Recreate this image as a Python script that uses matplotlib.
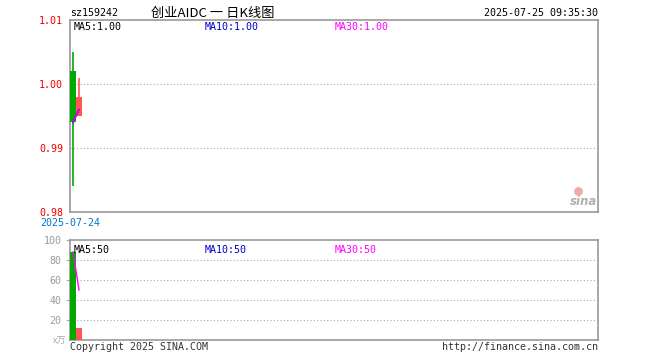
import matplotlib
matplotlib.use("Agg")
import matplotlib.pyplot as plt
import numpy as np

##Data##
dates = ['2025-07-24', '2025-07-25']
opens = [1.002, 0.995]
closes = [0.994, 0.998]
highs = [1.005, 1.001]
lows = [0.984, 0.995]
volumes = [88, 12]

code = 'sz159242'
title = '创业AIDC 一 日K线图'
stamp = '2025-07-25 09:35:30'
price_ticks = [0.98, 0.99, 1.00, 1.01]
vol_ticks = [20, 40, 60, 80, 100]

GREEN = '#00a800'
RED = '#ff5555'
BORDER = '#999999'
MONO = 'DejaVu Sans Mono'
FS = 7.2


def moving_avg(vals, n):
    out = []
    for i in range(len(vals)):
        w = vals[max(0, i - n + 1):i + 1]
        out.append(sum(w) / len(w))
    return out


W, H = 660, 360
fig = plt.figure(figsize=(6.6, 3.6), dpi=100)
ax = fig.add_axes([70 / W, (H - 212) / H, 528 / W, 192 / H])
axv = fig.add_axes([70 / W, (H - 340) / H, 528 / W, 100 / H])

x = np.arange(len(dates))
cols = [RED if c >= o else GREEN for o, c in zip(opens, closes)]

# candles
for xi, o, c, hi, lo, col in zip(x, opens, closes, highs, lows, cols):
    ax.vlines(xi, lo, hi, color=col, lw=1.2, zorder=3)
    ax.bar(xi, abs(c - o), bottom=min(o, c), width=0.85, color=col,
           edgecolor='none', zorder=4)

ma5 = moving_avg(closes, 5)
ma10 = moving_avg(closes, 10)
ma30 = moving_avg(closes, 30)
ax.plot(x, ma5, color='black', lw=1, zorder=5)
ax.plot(x, ma10, color='#0000cc', lw=1, zorder=5)
ax.plot(x, ma30, color='#ff00ff', lw=1, zorder=5)

ax.set_xlim(-0.5, 87.5)
ax.set_ylim(0.98, 1.01)
ax.set_yticks(price_ticks)
ax.set_yticklabels(['%.2f' % t for t in price_ticks], color='#ee0000',
                   family=MONO, fontsize=FS)
ax.set_xticks([])
ax.tick_params(axis='y', length=0, pad=5)
for t in [0.99, 1.00]:
    ax.axhline(t, color='#aaaaaa', lw=0.8, ls=(0, (1, 2)), zorder=1)

ax.text(4 / 528, 0.965, 'MA5:%.2f' % ma5[-1], transform=ax.transAxes,
        family=MONO, fontsize=FS, color='black', va='center')
ax.text(135 / 528, 0.965, 'MA10:%.2f' % ma10[-1], transform=ax.transAxes,
        family=MONO, fontsize=FS, color='#0000cc', va='center')
ax.text(265 / 528, 0.965, 'MA30:%.2f' % ma30[-1], transform=ax.transAxes,
        family=MONO, fontsize=FS, color='#ff00ff', va='center')

# sina watermark
ax.text(0.998, 0.02, 'sina', transform=ax.transAxes, ha='right', va='bottom',
        fontsize=8.5, fontstyle='italic', fontweight='bold', color='#b0b0b0',
        family='DejaVu Sans', zorder=2)
ax.scatter([0.962], [0.11], transform=ax.transAxes, s=28,
           color='#f4a8a8', zorder=2, clip_on=False)

# volume
axv.bar(x, volumes, width=0.85, color=cols, edgecolor='none', zorder=3)
vma5 = moving_avg(volumes, 5)
axv.plot(x, vma5, color='#ff00ff', lw=1, zorder=4)
axv.set_xlim(-0.5, 87.5)
axv.set_ylim(0, 100)
axv.set_yticks(vol_ticks)
axv.set_yticklabels([str(t) for t in vol_ticks], color='#999999',
                    family=MONO, fontsize=FS)
axv.set_xticks([])
axv.tick_params(axis='y', length=3, color='#aaaaaa', pad=3)
for t in [20, 40, 60, 80]:
    axv.axhline(t, color='#aaaaaa', lw=0.8, ls=(0, (1, 2)), zorder=1)
axv.text(4 / 528, 0.9, 'MA5:%d' % round(vma5[-1]), transform=axv.transAxes,
         family=MONO, fontsize=FS, color='black', va='center')
axv.text(135 / 528, 0.9, 'MA10:%d' % round(moving_avg(volumes, 10)[-1]),
         transform=axv.transAxes, family=MONO, fontsize=FS, color='#0000cc',
         va='center')
axv.text(265 / 528, 0.9, 'MA30:%d' % round(moving_avg(volumes, 30)[-1]),
         transform=axv.transAxes, family=MONO, fontsize=FS, color='#ff00ff',
         va='center')

for a in (ax, axv):
    for s in a.spines.values():
        s.set_color(BORDER)
        s.set_linewidth(1.2)

# header / footer texts
fig.text(70 / W, 1 - 13 / H, code, family=MONO, fontsize=FS, va='center')
fig.text(213 / W, 1 - 13 / H, title, family=['Noto Sans CJK SC', 'DejaVu Sans'],
         fontsize=9.5, va='center', ha='center')
fig.text(598 / W, 1 - 13 / H, stamp, family=MONO, fontsize=FS, va='center',
         ha='right')
fig.text(40 / W, 1 - 223 / H, dates[0], family=MONO, fontsize=FS,
         color='#0077cc', va='center')
fig.text(66 / W, 1 - 341 / H, 'x万', family=['Noto Sans CJK SC', 'DejaVu Sans'],
         fontsize=6.5, color='#aaaaaa', va='center', ha='right')
fig.text(70 / W, 1 - 347 / H, 'Copyright 2025 SINA.COM', family=MONO,
         fontsize=FS, color='#333333', va='center')
fig.text(598 / W, 1 - 347 / H, 'http://finance.sina.com.cn', family=MONO,
         fontsize=FS, color='#333333', va='center', ha='right')

fig.savefig('out.png', dpi=100)
